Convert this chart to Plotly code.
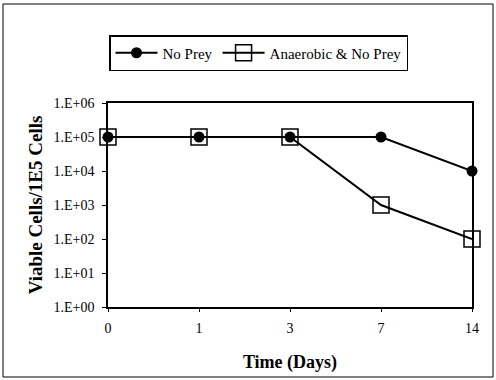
import plotly.graph_objects as go

days = ["0", "1", "3", "7", "14"]
no_prey = [1e5, 1e5, 1e5, 1e5, 1e4]
anaerobic_no_prey = [1e5, 1e5, 1e5, 1e3, 1e2]
y_tick_vals = [1, 10, 100, 1e3, 1e4, 1e5, 1e6]
y_tick_text = ["1.E+00", "1.E+01", "1.E+02", "1.E+03", "1.E+04", "1.E+05", "1.E+06"]

xpos = list(range(len(days)))
FONT = "Liberation Serif"

fig = go.Figure()
fig.add_trace(go.Scatter(
    x=xpos, y=anaerobic_no_prey, name="Anaerobic & No Prey", mode="lines+markers",
    line=dict(color="black", width=2),
    marker=dict(symbol="square-open", size=16, color="black", line=dict(width=1.5)),
    cliponaxis=False, legendrank=2,
))
fig.add_trace(go.Scatter(
    x=xpos, y=no_prey, name="No Prey", mode="lines+markers",
    line=dict(color="black", width=2),
    marker=dict(symbol="circle", size=11, color="black"),
    cliponaxis=False, legendrank=1,
))

L, R, T, B = 108, 24, 103, 73
W, H = 496, 380
pw, ph = W - L - R, H - T - B

def px2paper_x(px):
    return (px - L) / pw

def px2paper_y(py):
    return (H - B - py) / ph

fig.add_shape(type="rect", xref="paper", yref="paper",
              x0=px2paper_x(3), x1=px2paper_x(493), y0=px2paper_y(377), y1=px2paper_y(4),
              line=dict(color="black", width=1), fillcolor="rgba(0,0,0,0)", layer="below")

fig.update_layout(
    width=W, height=H,
    margin=dict(l=L, r=R, t=T, b=B),
    paper_bgcolor="white", plot_bgcolor="white",
    font=dict(family=FONT, color="black", size=14),
    showlegend=True,
    legend=dict(orientation="h", x=px2paper_x(109), y=px2paper_y(35), xanchor="left", yanchor="top",
                bordercolor="black", borderwidth=1.5, font=dict(family=FONT, size=15),
                itemwidth=42, tracegroupgap=0, traceorder="normal"),
    xaxis=dict(range=[0, 4], tickvals=xpos, ticktext=days, showgrid=False, zeroline=False,
               showline=True, linecolor="black", linewidth=1.5, mirror=True,
               ticks="outside", ticklen=3, tickcolor="black", ticklabelstandoff=4,
               tickfont=dict(family=FONT, size=14),
               title=dict(text="<b>Time (Days)</b>", font=dict(family=FONT, size=18), standoff=21)),
    yaxis=dict(type="log", range=[0, 6], tickvals=y_tick_vals, ticktext=y_tick_text,
               showgrid=False, zeroline=False,
               showline=True, linecolor="black", linewidth=1.5, mirror=True,
               ticks="outside", ticklen=4, tickcolor="black", ticklabelstandoff=5,
               tickfont=dict(family=FONT, size=14),
               title=dict(text="<b>Viable Cells/1E5 Cells</b>", font=dict(family=FONT, size=19), standoff=6)),
)

fig.write_html("out.html")
